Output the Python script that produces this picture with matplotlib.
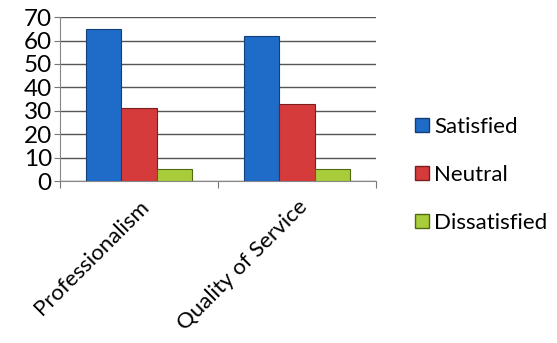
import numpy as np
import matplotlib.pyplot as plt
from matplotlib.patches import Patch

# Survey results per category
categories = ["Professionalism", "Quality of Service"]
satisfied = [65, 62]
neutral = [31, 33]
dissatisfied = [5, 5]

series = ["Satisfied", "Neutral", "Dissatisfied"]
colors = ["#1F6CC8", "#D63B3B", "#A9CC3A"]
edges = ["#123F78", "#7A1E1E", "#4E6A12"]

plt.rcParams['font.family'] = ['Lato', 'DejaVu Sans']

fig = plt.figure(figsize=(5.57, 3.43), dpi=100)
ax = fig.add_axes([0.108, 0.472, 0.567, 0.478])

x = np.arange(len(categories))
w = 0.225
for i, (vals, c, e) in enumerate(zip([satisfied, neutral, dissatisfied], colors, edges)):
    ax.bar(x + (i - 1) * w, vals, width=w, color=c, edgecolor=e, linewidth=0.8, zorder=3)

ax.set_xlim(-0.5, 1.5)
ax.set_ylim(0, 70)
ax.set_yticks(range(0, 71, 10))
ax.yaxis.grid(True, color="#555555", linewidth=1.0, zorder=0)
ax.tick_params(axis='y', labelsize=17.5, length=4, color="#777777", pad=2)

# category labels sit between the boundary ticks
ax.set_xticks([-0.5, 0.5, 1.5])
ax.set_xticklabels([])
ax.tick_params(axis='x', length=5, color="#777777")
ax.set_xticks(x, minor=True)
ax.set_xticklabels(categories, minor=True, rotation=45, ha='right',
                   rotation_mode='anchor', fontsize=16)
ax.tick_params(axis='x', which='minor', length=0, pad=11)

for s in ["top", "right"]:
    ax.spines[s].set_visible(False)
for s in ["left", "bottom"]:
    ax.spines[s].set_color("#888888")

handles = [Patch(facecolor=c, edgecolor=e, label=l) for c, e, l in zip(colors, edges, series)]
fig.legend(handles=handles, loc='center left', bbox_to_anchor=(0.71, 0.49),
           frameon=False, fontsize=16, labelspacing=1.25, handlelength=0.6,
           handleheight=0.6, handletextpad=0.25)

fig.savefig("out.png", dpi=100)
